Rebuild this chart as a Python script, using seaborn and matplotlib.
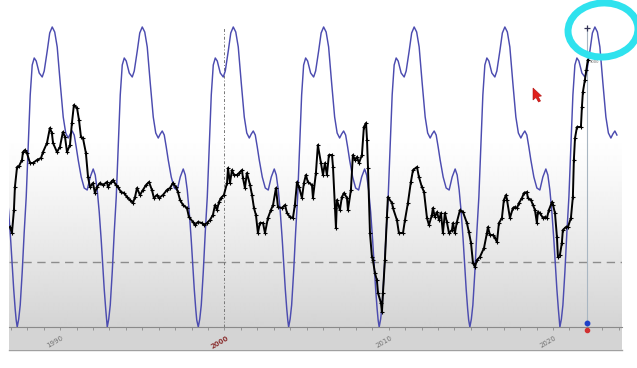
import numpy as np
import matplotlib
matplotlib.use("Agg")
import matplotlib.pyplot as plt
import matplotlib.transforms as mtransforms
from matplotlib.patches import Ellipse, Polygon, Rectangle
from matplotlib.lines import Line2D
import seaborn as sns

# ---------------- data ----------------
black_years = [
    1986.95, 1987.07, 1987.19, 1987.25, 1987.38, 1987.50, 1987.68, 1987.74, 1987.86, 1987.98,
    1988.17, 1988.35, 1988.59, 1988.84, 1988.96, 1989.20, 1989.38, 1989.50, 1989.57, 1989.81,
    1989.99, 1990.17, 1990.30, 1990.42, 1990.60, 1990.72, 1990.84, 1991.03, 1991.15, 1991.27,
    1991.39, 1991.57, 1991.70, 1991.82, 1992.00, 1992.12, 1992.24, 1992.43, 1992.61, 1992.85,
    1992.91, 1993.10, 1993.22, 1993.40, 1993.52, 1993.70, 1993.89, 1994.07, 1994.25, 1994.43,
    1994.56, 1994.68, 1994.86, 1995.04, 1995.23, 1995.41, 1995.59, 1995.71, 1995.89, 1996.02,
    1996.26, 1996.50, 1996.69, 1996.87, 1997.05, 1997.17, 1997.30, 1997.48, 1997.72, 1997.84,
    1998.09, 1998.21, 1998.39, 1998.63, 1998.76, 1998.94, 1999.12, 1999.30, 1999.43, 1999.55,
    1999.67, 1999.79, 1999.97, 2000.16, 2000.22, 2000.34, 2000.46, 2000.58, 2000.76, 2000.89,
    2001.07, 2001.13, 2001.25, 2001.37, 2001.56, 2001.68, 2001.80, 2001.92, 2002.04, 2002.16,
    2002.35, 2002.47, 2002.65, 2002.83, 2002.96, 2003.14, 2003.26, 2003.50, 2003.69, 2003.81,
    2003.99, 2004.17, 2004.29, 2004.42, 2004.54, 2004.72, 2004.84, 2004.96, 2005.08, 2005.33,
    2005.39, 2005.57, 2005.69, 2005.88, 2006.00, 2006.12, 2006.24, 2006.36, 2006.55, 2006.61,
    2006.73, 2006.79, 2006.85, 2007.03, 2007.15, 2007.28, 2007.46, 2007.52, 2007.70, 2007.82,
    2007.95, 2008.07, 2008.19, 2008.37, 2008.49, 2008.62, 2008.68, 2008.74, 2008.86, 2008.98,
    2009.04, 2009.16, 2009.28, 2009.35, 2009.53, 2009.59, 2009.65, 2009.77, 2009.89, 2009.95,
    2010.20, 2010.26, 2010.50, 2010.62, 2010.87, 2010.99, 2011.17, 2011.35, 2011.48, 2011.72,
    2011.84, 2012.02, 2012.15, 2012.33, 2012.45, 2012.63, 2012.69, 2012.81, 2012.94, 2013.06,
    2013.18, 2013.30, 2013.42, 2013.54, 2013.67, 2013.85, 2013.91, 2014.03, 2014.15, 2014.34,
    2014.52, 2014.76, 2014.88, 2015.01, 2015.13, 2015.25, 2015.37, 2015.55, 2015.80, 2015.98,
    2016.04, 2016.16, 2016.34, 2016.47, 2016.59, 2016.71, 2016.89, 2017.01, 2017.14, 2017.20,
    2017.38, 2017.56, 2017.68, 2017.81, 2017.93, 2018.11, 2018.23, 2018.41, 2018.47, 2018.66,
    2018.78, 2018.90, 2019.02, 2019.08, 2019.20, 2019.39, 2019.51, 2019.63, 2019.75, 2019.94,
    2020.00, 2020.12, 2020.24, 2020.30, 2020.42, 2020.54, 2020.60, 2020.79, 2020.91, 2021.09,
    2021.21, 2021.27, 2021.34, 2021.46, 2021.70, 2021.76, 2021.82, 2021.94, 2022.03, 2022.12,
]
black_values = [
    100, 94, 117, 140, 160, 161, 167, 175, 177, 174,
    164, 164, 167, 169, 175, 184, 199, 194, 184, 175,
    180, 195, 190, 175, 182, 204, 222, 219, 207, 190,
    189, 174, 150, 140, 144, 134, 140, 144, 142, 145,
    140, 145, 147, 142, 140, 135, 134, 130, 127, 124,
    130, 139, 132, 137, 142, 145, 137, 129, 132, 129,
    132, 137, 139, 144, 140, 135, 127, 122, 119, 110,
    105, 102, 105, 104, 102, 104, 107, 112, 122, 117,
    125, 129, 132, 144, 159, 144, 157, 152, 152, 154,
    157, 149, 139, 154, 142, 132, 119, 112, 94, 104,
    104, 94, 109, 117, 122, 139, 120, 119, 122, 114,
    110, 109, 122, 145, 140, 129, 144, 152, 145, 142,
    129, 154, 182, 164, 152, 164, 152, 172, 172, 160,
    119, 99, 127, 117, 130, 134, 129, 117, 137, 172,
    167, 170, 164, 172, 200, 204, 187, 159, 94, 70,
    67, 54, 47, 34, 24, 15, 34, 67, 110, 130,
    124, 119, 107, 94, 94, 107, 124, 145, 157, 160,
    150, 140, 135, 109, 102, 112, 119, 110, 115, 107,
    114, 94, 114, 105, 94, 97, 104, 94, 105, 117,
    115, 104, 95, 84, 64, 60, 67, 70, 79, 94,
    100, 92, 92, 89, 85, 104, 109, 127, 132, 127,
    109, 119, 120, 119, 124, 129, 134, 135, 129, 127,
    122, 117, 104, 115, 114, 109, 110, 109, 117, 125,
    122, 114, 90, 70, 72, 84, 97, 100, 100, 109,
    130, 167, 189, 200, 200, 220, 235, 247, 257, 267,
]

# one cycle of the blue model curve (offset in years from a trough, value)
blue_cycle_offsets = [0.000, 0.091, 0.183, 0.304, 0.426, 0.548, 0.669, 0.791, 0.913, 1.035,
                      1.156, 1.339, 1.522, 1.643, 1.826, 1.978, 2.130, 2.282, 2.434, 2.617,
                      2.800, 2.952, 3.104, 3.226, 3.347, 3.469, 3.591, 3.712, 3.895, 4.078,
                      4.260, 4.443, 4.625, 4.747, 4.869, 4.991, 5.112, 5.204, 5.295, 5.386,
                      5.447]
blue_cycle_values = [0, 8, 22, 55, 95, 130, 180, 232, 262, 269,
                     266, 254, 250, 256, 276, 294, 300, 295, 280, 244,
                     210, 194, 189, 193, 196, 192, 180, 167, 150, 139,
                     137, 150, 158, 152, 137, 115, 87, 63, 38, 18,
                     7]
blue_cycle_starts = [1981.88, 1987.39, 1992.87, 1998.41, 2003.91, 2009.42, 2014.94, 2020.42]
blue_end_year = 2023.95

decade_years = [1990, 2000, 2010, 2020]
decade_labels = ["1990", "2000", "2010", "2020"]
reference_level = 65
marker_year = 2000
cursor_year = 2022.07
cursor_value = 299
cursor_label = "9000"

# ---------------- build tables ----------------
bx, by = [], []
for s in blue_cycle_starts:
    for o, v in zip(blue_cycle_offsets, blue_cycle_values):
        if s + o <= blue_end_year:
            bx.append(s + o)
            by.append(v)

# ---------------- figure ----------------
W, H = 637, 368
fig = plt.figure(figsize=(W / 100, H / 100), dpi=100, facecolor="white")
px2fig = mtransforms.Affine2D().scale(1 / W, -1 / H).translate(0, 1) + fig.transFigure

# label band below the axis (drawn beneath the axes)
fig.patches.append(Rectangle((9, 327), 613, 23, transform=px2fig, facecolor="#d4d4d4",
                             edgecolor="none", zorder=-2))
fig.lines.append(Line2D([9, 622], [350, 350], transform=px2fig, color="#a0a0a0", lw=1.0,
                        zorder=-2))

ax = fig.add_axes([9 / W, 41 / H, 613 / W, 327 / H])
ax.set_zorder(1)
ax.patch.set_alpha(0)
xmin, xmax, ymax = 1986.89, 2024.20, 327
ax.set_xlim(xmin, xmax)
ax.set_ylim(0, ymax)

# gradient background
rows = np.arange(327)
t = np.clip((rows - 135) / 192.0, 0, 1)
g = 1 - 0.17 * t ** 1.2
grad = np.repeat(g[:, None], 2, axis=1)
ax.imshow(grad, extent=[xmin, xmax, 0, ymax], aspect="auto", cmap="gray",
          vmin=0, vmax=1, zorder=0, interpolation="bilinear", origin="upper")

# reference lines
ax.axhline(reference_level, color="#8c8c8c", lw=1.0, ls=(0, (6, 4)), zorder=1)
ax.vlines(marker_year, 0, 300, color="#777777", lw=0.7, ls=(0, (3, 2, 1, 2)), zorder=1)

# blue model curve
sns.lineplot(x=bx, y=by, ax=ax, color="#4c4cb0", lw=1.05, sort=False, estimator=None, zorder=3)

# black series
sns.lineplot(x=black_years, y=black_values, ax=ax, color="black", lw=1.4, marker="+",
             markersize=3.5, markeredgewidth=0.8, markeredgecolor="black",
             sort=False, estimator=None, zorder=4)

# cursor
ax.vlines(cursor_year, 0, cursor_value, color="#a9b6c2", lw=0.8, zorder=2)
ax.plot([cursor_year], [cursor_value], marker="+", color="#333355", ms=4, mew=0.9, zorder=5)
ax.plot([cursor_year], [-3], marker="o", color="#d03030", ms=3.0, clip_on=False, zorder=5)
ax.plot([cursor_year], [4], marker="o", color="#1e40c8", ms=3.2, clip_on=False, zorder=6)
ax.text(cursor_year + 0.15, 265, cursor_label, fontsize=2.6, color="#666666", ha="left",
        va="center", zorder=5)

# axis styling
ax.set_xticks(np.arange(1987, 2025))
ax.tick_params(axis="x", direction="out", length=2.5, width=0.6, color="#8a8a8a",
               labelbottom=False)
ax.set_yticks([])
for side in ["top", "left", "right"]:
    ax.spines[side].set_visible(False)
ax.spines["bottom"].set_color("#8a8a8a")
ax.spines["bottom"].set_linewidth(0.8)
ax.set_xlabel("")
ax.set_ylabel("")

for yr, lab in zip(decade_years, decade_labels):
    col = "#8b3030" if yr == marker_year else "#707070"
    ax.text(yr - 0.3, -15, lab, rotation=30, fontsize=5, ha="center", va="center",
            color=col, clip_on=False, fontweight="bold" if yr == marker_year else "normal")

# annotations: hand-drawn circle and mouse pointer
fig.patches.append(Ellipse((603, 30), 70, 54, angle=-4, transform=px2fig, fill=False,
                           edgecolor="#2fe2ee", lw=5.0, zorder=10))
pointer = [(533, 88), (533, 100), (536, 97.5), (538.5, 102), (540.5, 101), (538.2, 96.5),
           (541.5, 96)]
fig.patches.append(Polygon(pointer, closed=True, transform=px2fig, facecolor="#e0201c",
                           edgecolor="#b01010", lw=0.4, zorder=10))

fig.savefig("out.png", dpi=100, facecolor="white")
